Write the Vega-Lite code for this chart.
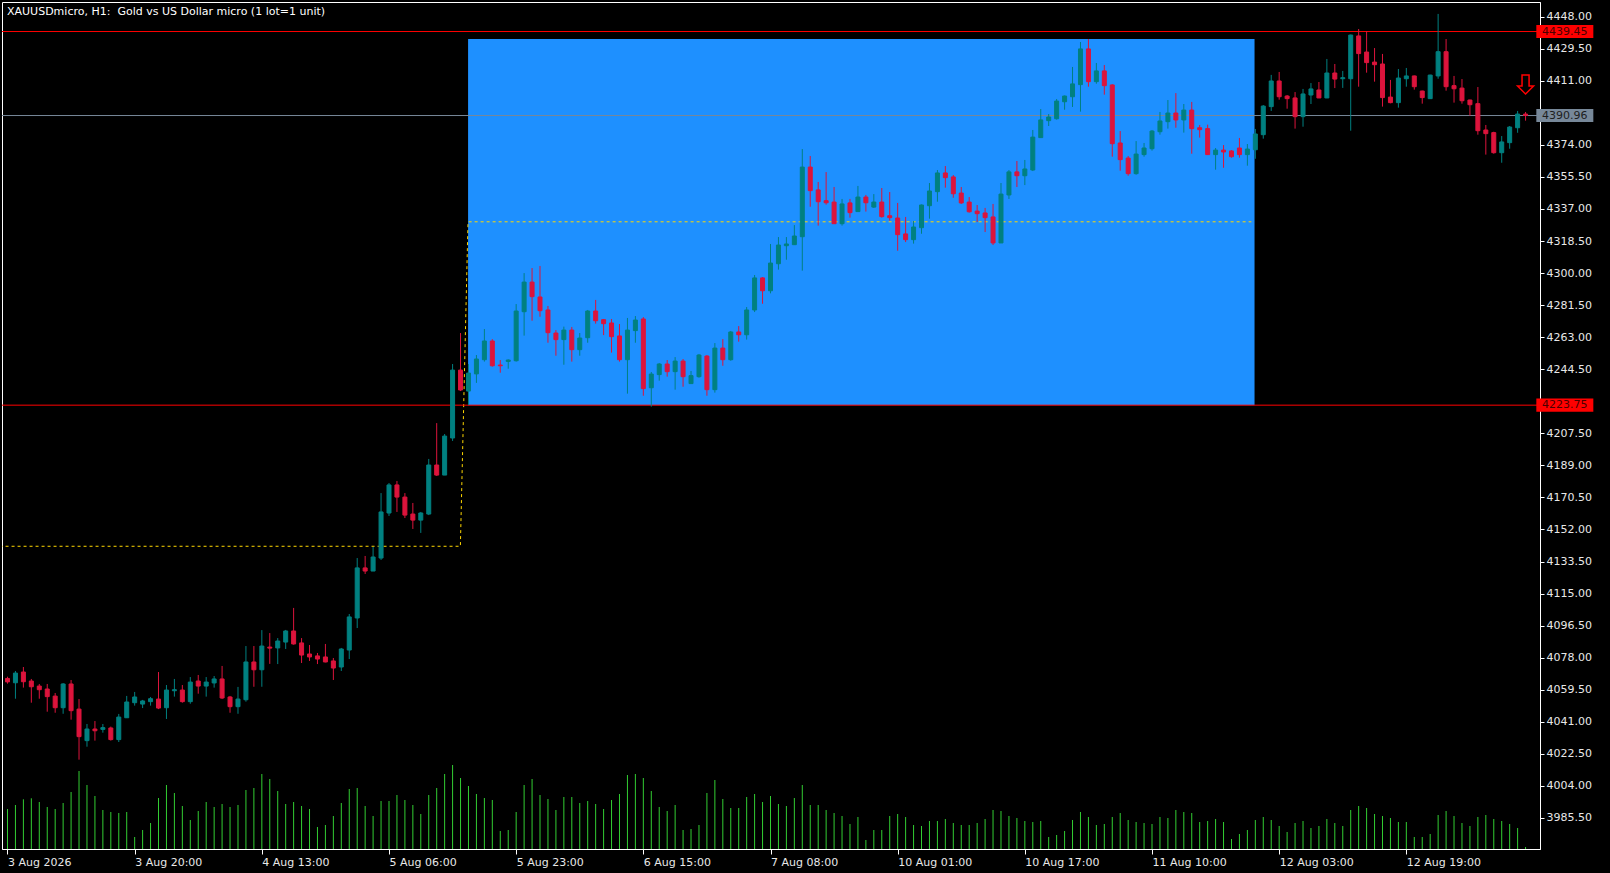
{
  "$schema": "https://vega.github.io/schema/vega-lite/v6.json",
  "width": 1538,
  "height": 847,
  "autosize": {"type": "none"},
  "padding": {"left": 2, "top": 2, "right": 70, "bottom": 24},
  "background": "#000000",
  "config": {
    "view": {"fill": "#000000", "stroke": "#ffffff", "strokeWidth": 1},
    "font": "DejaVu Sans"
  },
  "title": {
    "text": "XAUUSDmicro, H1: \u00a0Gold vs US Dollar micro (1 lot=1 unit)",
    "anchor": "start", "frame": "group", "orient": "top", "offset": -15, "dx": 5,
    "color": "#ffffff", "font": "DejaVu Sans", "fontSize": 11, "fontWeight": "normal"
  },
  "datasets": {
    "bars": [
      {"i":0,"o":4066,"h":4067,"l":4063,"c":4064,"v":4000},
      {"i":1,"o":4063.5,"h":4070.3,"l":4054.3,"c":4069.1,"v":4400},
      {"i":2,"o":4069.7,"h":4072.6,"l":4060.7,"c":4064.1,"v":4970},
      {"i":3,"o":4064.5,"h":4065.7,"l":4052.0,"c":4061.2,"v":5070},
      {"i":4,"o":4061.6,"h":4062.8,"l":4054.3,"c":4059.5,"v":4700},
      {"i":5,"o":4059.9,"h":4062.8,"l":4046.8,"c":4055.5,"v":4200},
      {"i":6,"o":4055.8,"h":4057.6,"l":4046.2,"c":4049.1,"v":4000},
      {"i":7,"o":4049.1,"h":4063.3,"l":4045.6,"c":4062.8,"v":4600},
      {"i":8,"o":4062.8,"h":4065.1,"l":4042.2,"c":4047.4,"v":5700},
      {"i":9,"o":4048.3,"h":4054.1,"l":4019.1,"c":4032.4,"v":7800},
      {"i":10,"o":4030.1,"h":4039.7,"l":4026.6,"c":4036.8,"v":6400},
      {"i":11,"o":4036.8,"h":4041.4,"l":4030.1,"c":4035.8,"v":5300},
      {"i":12,"o":4036.6,"h":4039.7,"l":4034.7,"c":4037.6,"v":3900},
      {"i":13,"o":4037.4,"h":4038.2,"l":4030.1,"c":4030.7,"v":3700},
      {"i":14,"o":4030.7,"h":4045.5,"l":4029.3,"c":4043.7,"v":3600},
      {"i":15,"o":4043.3,"h":4055.9,"l":4043.3,"c":4052.4,"v":3700},
      {"i":16,"o":4052.0,"h":4058.2,"l":4050.3,"c":4055.3,"v":1200},
      {"i":17,"o":4051.2,"h":4053.6,"l":4048.9,"c":4053.0,"v":1900},
      {"i":18,"o":4052.6,"h":4055.3,"l":4050.3,"c":4054.3,"v":2600},
      {"i":19,"o":4054.1,"h":4069.7,"l":4048.3,"c":4048.9,"v":5100},
      {"i":20,"o":4049.1,"h":4062.2,"l":4042.6,"c":4059.3,"v":6400},
      {"i":21,"o":4058.9,"h":4065.7,"l":4055.5,"c":4059.5,"v":5600},
      {"i":22,"o":4059.3,"h":4062.2,"l":4052.0,"c":4052.6,"v":4300},
      {"i":23,"o":4052.6,"h":4066.8,"l":4051.4,"c":4063.9,"v":2900},
      {"i":24,"o":4064.5,"h":4068.0,"l":4057.2,"c":4061.6,"v":3800},
      {"i":25,"o":4061.6,"h":4066.8,"l":4055.5,"c":4063.9,"v":4700},
      {"i":26,"o":4063.4,"h":4067.4,"l":4060.7,"c":4065.7,"v":4200},
      {"i":27,"o":4065.7,"h":4073.2,"l":4054.1,"c":4054.7,"v":4500},
      {"i":28,"o":4055.3,"h":4055.9,"l":4046.2,"c":4049.7,"v":4200},
      {"i":29,"o":4049.7,"h":4061.1,"l":4045.6,"c":4054.1,"v":4400},
      {"i":30,"o":4053.7,"h":4084.7,"l":4052.6,"c":4075.5,"v":5900},
      {"i":31,"o":4075.5,"h":4084.7,"l":4061.2,"c":4071.0,"v":6100},
      {"i":32,"o":4071.0,"h":4093.9,"l":4061.2,"c":4084.7,"v":7500},
      {"i":33,"o":4084.1,"h":4092.2,"l":4074.4,"c":4083.5,"v":7000},
      {"i":34,"o":4083.6,"h":4089.3,"l":4074.3,"c":4087.6,"v":5800},
      {"i":35,"o":4087.0,"h":4094.0,"l":4083.0,"c":4093.4,"v":4500},
      {"i":36,"o":4093.4,"h":4106.7,"l":4085.5,"c":4085.9,"v":4700},
      {"i":37,"o":4086.5,"h":4089.3,"l":4074.9,"c":4079.5,"v":4300},
      {"i":38,"o":4080.1,"h":4085.3,"l":4076.1,"c":4078.4,"v":4000},
      {"i":39,"o":4079.0,"h":4080.7,"l":4074.3,"c":4077.2,"v":2200},
      {"i":40,"o":4078.4,"h":4085.9,"l":4075.3,"c":4075.5,"v":2400},
      {"i":41,"o":4076.1,"h":4077.8,"l":4065.1,"c":4072.0,"v":3300},
      {"i":42,"o":4072.6,"h":4083.6,"l":4070.3,"c":4083.0,"v":4600},
      {"i":43,"o":4082.4,"h":4103.2,"l":4077.2,"c":4101.5,"v":6000},
      {"i":44,"o":4100.9,"h":4135.5,"l":4095.1,"c":4129.8,"v":6100},
      {"i":45,"o":4129.8,"h":4136.7,"l":4126.3,"c":4128.0,"v":4300},
      {"i":46,"o":4128.0,"h":4141.9,"l":4128.0,"c":4136.1,"v":3300},
      {"i":47,"o":4135.5,"h":4173.0,"l":4134.4,"c":4162.1,"v":4800},
      {"i":48,"o":4161.5,"h":4178.8,"l":4159.8,"c":4177.7,"v":4800},
      {"i":49,"o":4177.7,"h":4180.0,"l":4162.1,"c":4170.7,"v":5400},
      {"i":50,"o":4170.7,"h":4173.0,"l":4158.6,"c":4160.3,"v":4900},
      {"i":51,"o":4160.9,"h":4167.3,"l":4152.3,"c":4157.4,"v":4400},
      {"i":52,"o":4157.4,"h":4162.1,"l":4150.0,"c":4161.5,"v":3500},
      {"i":53,"o":4160.9,"h":4192.7,"l":4160.3,"c":4189.2,"v":5400},
      {"i":54,"o":4189.2,"h":4213.4,"l":4182.9,"c":4183.4,"v":6100},
      {"i":55,"o":4183.4,"h":4207.1,"l":4183.4,"c":4205.9,"v":7500},
      {"i":56,"o":4204.8,"h":4247.5,"l":4203.1,"c":4244.0,"v":8400},
      {"i":57,"o":4244.0,"h":4265.4,"l":4231.9,"c":4232.5,"v":7100},
      {"i":58,"o":4231.9,"h":4247.5,"l":4223.8,"c":4242.3,"v":6300},
      {"i":59,"o":4241.8,"h":4252.7,"l":4236.6,"c":4250.4,"v":5500},
      {"i":60,"o":4250.0,"h":4267.7,"l":4248.9,"c":4260.8,"v":5100},
      {"i":61,"o":4260.8,"h":4261.9,"l":4246.0,"c":4246.5,"v":4900},
      {"i":62,"o":4246.9,"h":4249.8,"l":4242.5,"c":4246.5,"v":1800},
      {"i":63,"o":4249.0,"h":4250.2,"l":4244.8,"c":4249.8,"v":1900},
      {"i":64,"o":4249.4,"h":4282.1,"l":4248.9,"c":4278.1,"v":3700},
      {"i":65,"o":4277.7,"h":4300.0,"l":4263.9,"c":4294.8,"v":6400},
      {"i":66,"o":4294.8,"h":4302.9,"l":4272.5,"c":4286.4,"v":7000},
      {"i":67,"o":4286.2,"h":4304.1,"l":4274.8,"c":4278.3,"v":5400},
      {"i":68,"o":4278.7,"h":4281.0,"l":4259.8,"c":4265.6,"v":5000},
      {"i":69,"o":4265.4,"h":4267.1,"l":4252.3,"c":4261.6,"v":3900},
      {"i":70,"o":4261.6,"h":4269.1,"l":4247.1,"c":4267.1,"v":5200},
      {"i":71,"o":4267.1,"h":4268.9,"l":4248.9,"c":4255.8,"v":5200},
      {"i":72,"o":4255.8,"h":4265.4,"l":4252.3,"c":4262.5,"v":4600},
      {"i":73,"o":4262.7,"h":4278.7,"l":4259.8,"c":4278.1,"v":4800},
      {"i":74,"o":4278.1,"h":4284.5,"l":4270.8,"c":4272.5,"v":4500},
      {"i":75,"o":4273.1,"h":4273.5,"l":4264.2,"c":4270.8,"v":4000},
      {"i":76,"o":4271.2,"h":4273.5,"l":4254.1,"c":4263.3,"v":4900},
      {"i":77,"o":4263.7,"h":4270.6,"l":4248.9,"c":4250.0,"v":5500},
      {"i":78,"o":4250.0,"h":4274.1,"l":4230.4,"c":4267.1,"v":7400},
      {"i":79,"o":4266.8,"h":4275.2,"l":4259.8,"c":4272.9,"v":7500},
      {"i":80,"o":4273.5,"h":4274.6,"l":4229.2,"c":4233.3,"v":7100},
      {"i":81,"o":4233.8,"h":4242.9,"l":4222.9,"c":4241.7,"v":5800},
      {"i":82,"o":4241.4,"h":4248.1,"l":4237.9,"c":4247.5,"v":4200},
      {"i":83,"o":4247.5,"h":4249.8,"l":4240.2,"c":4243.1,"v":3800},
      {"i":84,"o":4243.1,"h":4251.5,"l":4232.7,"c":4249.2,"v":4400},
      {"i":85,"o":4249.2,"h":4250.4,"l":4234.4,"c":4240.2,"v":1900},
      {"i":86,"o":4236.2,"h":4243.5,"l":4236.2,"c":4240.8,"v":2000},
      {"i":87,"o":4240.2,"h":4253.3,"l":4239.6,"c":4252.7,"v":2400},
      {"i":88,"o":4252.1,"h":4252.7,"l":4229.2,"c":4232.7,"v":5600},
      {"i":89,"o":4232.7,"h":4259.6,"l":4231.0,"c":4256.7,"v":6900},
      {"i":90,"o":4256.7,"h":4261.9,"l":4246.5,"c":4250.0,"v":5000},
      {"i":91,"o":4250.0,"h":4266.6,"l":4249.4,"c":4266.0,"v":4100},
      {"i":92,"o":4266.0,"h":4269.4,"l":4260.4,"c":4264.4,"v":4100},
      {"i":93,"o":4264.4,"h":4280.4,"l":4261.6,"c":4278.7,"v":5200},
      {"i":94,"o":4278.7,"h":4298.9,"l":4277.5,"c":4297.2,"v":5500},
      {"i":95,"o":4297.2,"h":4297.7,"l":4282.3,"c":4289.8,"v":4700},
      {"i":96,"o":4289.8,"h":4316.8,"l":4288.3,"c":4305.8,"v":5300},
      {"i":97,"o":4305.4,"h":4320.8,"l":4302.0,"c":4316.2,"v":4500},
      {"i":98,"o":4315.8,"h":4320.8,"l":4307.7,"c":4316.8,"v":4300},
      {"i":99,"o":4316.4,"h":4327.7,"l":4316.4,"c":4321.4,"v":5100},
      {"i":100,"o":4321.0,"h":4371.6,"l":4301.4,"c":4361.2,"v":6400},
      {"i":101,"o":4361.2,"h":4367.6,"l":4338.3,"c":4347.6,"v":4400},
      {"i":102,"o":4348.0,"h":4352.6,"l":4327.4,"c":4341.2,"v":4400},
      {"i":103,"o":4341.8,"h":4358.3,"l":4339.5,"c":4340.6,"v":3900},
      {"i":104,"o":4341.0,"h":4349.7,"l":4328.5,"c":4328.5,"v":3600},
      {"i":105,"o":4328.5,"h":4342.8,"l":4327.4,"c":4339.9,"v":3300},
      {"i":106,"o":4340.5,"h":4342.8,"l":4332.0,"c":4334.9,"v":2500},
      {"i":107,"o":4335.5,"h":4350.3,"l":4335.5,"c":4343.9,"v":3200},
      {"i":108,"o":4343.9,"h":4345.1,"l":4335.5,"c":4340.6,"v":900},
      {"i":109,"o":4338.1,"h":4345.6,"l":4337.6,"c":4341.0,"v":1900},
      {"i":110,"o":4341.0,"h":4349.1,"l":4332.0,"c":4332.6,"v":1900},
      {"i":111,"o":4333.1,"h":4346.8,"l":4330.3,"c":4332.0,"v":3300},
      {"i":112,"o":4331.8,"h":4340.5,"l":4312.9,"c":4322.2,"v":3500},
      {"i":113,"o":4322.6,"h":4332.4,"l":4317.9,"c":4319.3,"v":3200},
      {"i":114,"o":4319.3,"h":4330.1,"l":4317.0,"c":4326.6,"v":2400},
      {"i":115,"o":4326.2,"h":4339.6,"l":4322.7,"c":4339.3,"v":2300},
      {"i":116,"o":4338.9,"h":4352.0,"l":4331.4,"c":4347.4,"v":2800},
      {"i":117,"o":4347.0,"h":4359.5,"l":4341.2,"c":4357.8,"v":2800},
      {"i":118,"o":4357.8,"h":4361.8,"l":4349.3,"c":4355.1,"v":3000},
      {"i":119,"o":4355.5,"h":4356.6,"l":4343.5,"c":4345.8,"v":2600},
      {"i":120,"o":4346.2,"h":4349.7,"l":4339.9,"c":4340.5,"v":2400},
      {"i":121,"o":4341.0,"h":4343.9,"l":4334.9,"c":4335.4,"v":2400},
      {"i":122,"o":4335.8,"h":4339.3,"l":4329.5,"c":4334.3,"v":2600},
      {"i":123,"o":4334.7,"h":4337.6,"l":4323.7,"c":4332.0,"v":3000},
      {"i":124,"o":4332.4,"h":4339.9,"l":4316.2,"c":4317.4,"v":3900},
      {"i":125,"o":4317.4,"h":4352.0,"l":4317.4,"c":4345.6,"v":3800},
      {"i":126,"o":4345.1,"h":4359.5,"l":4342.8,"c":4358.4,"v":3300},
      {"i":127,"o":4358.4,"h":4364.7,"l":4349.7,"c":4356.2,"v":3100},
      {"i":128,"o":4356.2,"h":4365.3,"l":4350.8,"c":4360.1,"v":2800},
      {"i":129,"o":4359.5,"h":4382.6,"l":4358.9,"c":4378.5,"v":2700},
      {"i":130,"o":4378.2,"h":4394.7,"l":4378.2,"c":4388.4,"v":2800},
      {"i":131,"o":4388.0,"h":4391.8,"l":4384.9,"c":4390.1,"v":1200},
      {"i":132,"o":4389.1,"h":4400.5,"l":4388.6,"c":4399.3,"v":1400},
      {"i":133,"o":4398.9,"h":4402.5,"l":4394.3,"c":4402.2,"v":1800},
      {"i":134,"o":4401.8,"h":4419.0,"l":4395.9,"c":4409.2,"v":2900},
      {"i":135,"o":4408.8,"h":4433.4,"l":4393.2,"c":4429.4,"v":3700},
      {"i":136,"o":4429.4,"h":4435.1,"l":4407.6,"c":4410.5,"v":3200},
      {"i":137,"o":4410.5,"h":4421.3,"l":4409.3,"c":4416.7,"v":2400},
      {"i":138,"o":4416.7,"h":4420.1,"l":4403.0,"c":4408.2,"v":2500},
      {"i":139,"o":4408.6,"h":4409.0,"l":4367.2,"c":4374.7,"v":3200},
      {"i":140,"o":4375.1,"h":4382.0,"l":4359.1,"c":4365.5,"v":3600},
      {"i":141,"o":4366.4,"h":4367.6,"l":4356.2,"c":4357.4,"v":2900},
      {"i":142,"o":4357.4,"h":4376.2,"l":4356.8,"c":4368.7,"v":2700},
      {"i":143,"o":4368.4,"h":4375.1,"l":4367.2,"c":4372.2,"v":2600},
      {"i":144,"o":4371.8,"h":4382.6,"l":4370.7,"c":4382.0,"v":2500},
      {"i":145,"o":4381.6,"h":4393.0,"l":4379.9,"c":4387.8,"v":3200},
      {"i":146,"o":4387.4,"h":4399.9,"l":4383.4,"c":4392.4,"v":3100},
      {"i":147,"o":4392.4,"h":4403.9,"l":4383.9,"c":4388.4,"v":3900},
      {"i":148,"o":4388.4,"h":4397.6,"l":4381.1,"c":4394.1,"v":3700},
      {"i":149,"o":4394.1,"h":4398.8,"l":4368.9,"c":4383.4,"v":3600},
      {"i":150,"o":4383.9,"h":4385.5,"l":4378.2,"c":4382.8,"v":2700},
      {"i":151,"o":4383.4,"h":4385.7,"l":4368.2,"c":4368.4,"v":2800},
      {"i":152,"o":4368.4,"h":4372.2,"l":4359.7,"c":4371.0,"v":3000},
      {"i":153,"o":4371.0,"h":4373.9,"l":4360.8,"c":4369.9,"v":2700},
      {"i":154,"o":4370.5,"h":4371.0,"l":4366.6,"c":4367.2,"v":1000},
      {"i":155,"o":4372.2,"h":4378.0,"l":4366.6,"c":4368.4,"v":1500},
      {"i":156,"o":4368.4,"h":4374.5,"l":4362.0,"c":4371.6,"v":1900},
      {"i":157,"o":4371.2,"h":4383.2,"l":4366.0,"c":4380.3,"v":2900},
      {"i":158,"o":4379.9,"h":4397.0,"l":4377.6,"c":4396.4,"v":3200},
      {"i":159,"o":4396.1,"h":4414.4,"l":4393.6,"c":4410.9,"v":2900},
      {"i":160,"o":4410.9,"h":4416.1,"l":4400.1,"c":4401.8,"v":2300},
      {"i":161,"o":4402.2,"h":4402.8,"l":4394.9,"c":4400.7,"v":1700},
      {"i":162,"o":4401.1,"h":4404.5,"l":4383.4,"c":4390.3,"v":2600},
      {"i":163,"o":4390.3,"h":4406.3,"l":4384.5,"c":4403.4,"v":2800},
      {"i":164,"o":4402.8,"h":4409.7,"l":4397.6,"c":4406.3,"v":2100},
      {"i":165,"o":4405.7,"h":4410.3,"l":4401.0,"c":4401.1,"v":2300},
      {"i":166,"o":4401.1,"h":4423.6,"l":4401.0,"c":4415.5,"v":3000},
      {"i":167,"o":4415.5,"h":4420.7,"l":4406.8,"c":4412.0,"v":2600},
      {"i":168,"o":4412.2,"h":4416.7,"l":4406.9,"c":4412.8,"v":2300},
      {"i":169,"o":4412.2,"h":4437.7,"l":4382.2,"c":4437.4,"v":3900},
      {"i":170,"o":4436.9,"h":4440.9,"l":4407.6,"c":4426.7,"v":4300},
      {"i":171,"o":4427.6,"h":4439.7,"l":4415.7,"c":4421.5,"v":4100},
      {"i":172,"o":4421.8,"h":4429.9,"l":4410.5,"c":4420.3,"v":3500},
      {"i":173,"o":4420.7,"h":4426.5,"l":4396.1,"c":4401.3,"v":3300},
      {"i":174,"o":4401.6,"h":4411.5,"l":4398.0,"c":4398.4,"v":3100},
      {"i":175,"o":4398.4,"h":4417.8,"l":4395.5,"c":4412.6,"v":2700},
      {"i":176,"o":4412.2,"h":4418.4,"l":4407.6,"c":4413.8,"v":2700},
      {"i":177,"o":4413.8,"h":4414.0,"l":4405.9,"c":4407.6,"v":1200},
      {"i":178,"o":4405.1,"h":4405.3,"l":4397.8,"c":4401.3,"v":1200},
      {"i":179,"o":4400.7,"h":4414.5,"l":4400.5,"c":4414.3,"v":1500},
      {"i":180,"o":4413.8,"h":4449.6,"l":4412.2,"c":4427.8,"v":3400},
      {"i":181,"o":4427.8,"h":4435.1,"l":4405.3,"c":4407.6,"v":3800},
      {"i":182,"o":4408.2,"h":4413.8,"l":4398.4,"c":4406.4,"v":3300},
      {"i":183,"o":4406.8,"h":4412.0,"l":4397.8,"c":4399.5,"v":2600},
      {"i":184,"o":4399.9,"h":4400.1,"l":4390.9,"c":4397.2,"v":2300},
      {"i":185,"o":4397.8,"h":4407.4,"l":4379.9,"c":4382.2,"v":3200},
      {"i":186,"o":4382.6,"h":4385.5,"l":4368.4,"c":4380.5,"v":3400},
      {"i":187,"o":4381.1,"h":4381.6,"l":4368.9,"c":4369.5,"v":3000},
      {"i":188,"o":4369.5,"h":4379.1,"l":4363.7,"c":4375.7,"v":2800},
      {"i":189,"o":4375.3,"h":4384.9,"l":4371.8,"c":4384.3,"v":2500},
      {"i":190,"o":4383.9,"h":4393.6,"l":4381.0,"c":4391.8,"v":2100},
      {"i":191,"o":4391.8,"h":4393.0,"l":4388.0,"c":4390.96,"v":200}
    ],
    "zone": [{"from": 57.95, "to": 156.9, "top": 4435.1, "bottom": 4223.75}],
    "trend": [
      {"i": -1, "p": 4142.3},
      {"i": 56.98, "p": 4142.3},
      {"i": 57.94, "p": 4329.6},
      {"i": 156.5, "p": 4329.6}
    ],
    "levels": [
      {"p": 4439.45, "label": "4439.45", "kind": "line"},
      {"p": 4223.75, "label": "4223.75", "kind": "line"},
      {"p": 4390.96, "label": "4390.96", "kind": "bid"}
    ],
    "signal": [{"i": 191, "p": 4408.85}]
  },
  "layer": [
    {
      "layer": [
        {
          "data": {"name": "zone"},
          "mark": {"type": "rect", "color": "#1e90ff"},
          "encoding": {
            "x": {"field": "from", "type": "quantitative", "scale": {"domain": [-0.0625, 192.1875], "nice": false, "zero": false},
              "axis": {"orient": "bottom", "values": [0, 16, 32, 48, 64, 80, 96, 112, 128, 144, 160, 176], "tickCount": 40,
                "labelExpr": "['3 Aug 2026','3 Aug 20:00','4 Aug 13:00','5 Aug 06:00','5 Aug 23:00','6 Aug 15:00','7 Aug 08:00','10 Aug 01:00','10 Aug 17:00','11 Aug 10:00','12 Aug 03:00','12 Aug 19:00'][datum.value / 16]",
                "labelAlign": "left", "tickSize": 5, "labelPadding": 2, "title": null, "grid": false,
                "labelFont": "DejaVu Sans", "labelFontSize": 11, "labelColor": "#e8e8e8", "tickColor": "#ffffff", "domainColor": "#ffffff",
                "labelOverlap": false, "labelFlush": false, "labelBound": false}},
            "x2": {"field": "to"},
            "y": {"field": "bottom", "type": "quantitative", "scale": {"domain": [3967.54, 4456.49], "nice": false, "zero": false},
              "axis": {"orient": "right", "values": [3985.5, 4004, 4022.5, 4041, 4059.5, 4078, 4096.5, 4115, 4133.5, 4152, 4170.5, 4189, 4207.5, 4244.5, 4263, 4281.5, 4300, 4318.5, 4337, 4355.5, 4374, 4411, 4429.5, 4448],
                "tickCount": 60, "format": ".2f", "tickSize": 4, "labelPadding": 2, "title": null, "grid": false,
                "labelFont": "DejaVu Sans", "labelFontSize": 11, "labelColor": "#e8e8e8", "tickColor": "#ffffff", "domainColor": "#ffffff",
                "labelOverlap": false, "labelFlush": false, "labelBound": false}},
            "y2": {"field": "top"}
          }
        },
        {
          "data": {"name": "trend"},
          "mark": {"type": "line", "color": "#ffd700", "strokeWidth": 1, "strokeDash": [3, 3], "clip": true},
          "encoding": {
            "x": {"field": "i", "type": "quantitative"},
            "y": {"field": "p", "type": "quantitative"}
          }
        },
        {
          "data": {"name": "levels"},
          "mark": {"type": "rule", "strokeWidth": 1},
          "encoding": {
            "y": {"field": "p", "type": "quantitative"},
            "color": {"condition": {"test": "datum.kind == 'bid'", "value": "#778899"}, "value": "#ff0000"}
          }
        },
        {
          "data": {"name": "bars"},
          "mark": {"type": "rule", "strokeWidth": 1},
          "encoding": {
            "x": {"field": "i", "type": "quantitative"},
            "y": {"field": "l", "type": "quantitative"},
            "y2": {"field": "h"},
            "color": {"condition": {"test": "datum.c >= datum.o", "value": "#008080"}, "value": "#dc143c"}
          }
        },
        {
          "data": {"name": "bars"},
          "mark": {"type": "bar", "size": 4, "strokeWidth": 1},
          "encoding": {
            "x": {"field": "i", "type": "quantitative"},
            "y": {"field": "o", "type": "quantitative"},
            "y2": {"field": "c"},
            "fill": {"condition": {"test": "datum.c >= datum.o", "value": "#008080"}, "value": "#dc143c"},
            "stroke": {"condition": {"test": "datum.c >= datum.o", "value": "#008080"}, "value": "#dc143c"}
          }
        },
        {
          "data": {"name": "levels"},
          "mark": {"type": "point", "filled": true, "opacity": 1, "clip": false, "size": 3249,
            "shape": "M-1,-0.23L1,-0.23L1,0.23L-1,0.23Z"},
          "encoding": {
            "x": {"datum": 195.94, "type": "quantitative"},
            "y": {"field": "p", "type": "quantitative"},
            "color": {"condition": {"test": "datum.kind == 'bid'", "value": "#778899"}, "value": "#ff0000"}
          }
        },
        {
          "data": {"name": "levels"},
          "mark": {"type": "text", "clip": false, "font": "DejaVu Sans", "fontSize": 11, "align": "center", "baseline": "middle"},
          "encoding": {
            "x": {"datum": 195.94, "type": "quantitative"},
            "y": {"field": "p", "type": "quantitative"},
            "text": {"field": "label"},
            "color": {"condition": {"test": "datum.kind == 'bid'", "value": "#1e1e1e"}, "value": "#4a0000"}
          }
        },
        {
          "data": {"name": "signal"},
          "mark": {"type": "point", "filled": false, "opacity": 1, "stroke": "#ff0000", "strokeWidth": 1.5, "size": 256,
            "shape": "M-0.44,-1.19L0.44,-1.19L0.44,0.19L1,0.19L0,1.19L-1,0.19L-0.44,0.19Z"},
          "encoding": {
            "x": {"field": "i", "type": "quantitative"},
            "y": {"field": "p", "type": "quantitative"}
          }
        }
      ]
    },
    {
      "data": {"name": "bars"},
      "mark": {"type": "rule", "color": "#32cd32", "strokeWidth": 1},
      "encoding": {
        "x": {"field": "i", "type": "quantitative"},
        "y": {"field": "v", "type": "quantitative", "scale": {"domain": [0, 84700], "nice": false, "zero": true}, "axis": null},
        "y2": {"datum": 0}
      }
    }
  ],
  "resolve": {"scale": {"y": "independent"}, "axis": {"y": "independent"}}
}
